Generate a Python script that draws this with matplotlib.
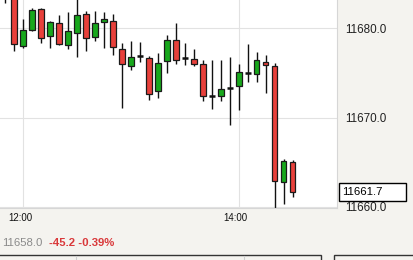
import matplotlib
matplotlib.use("Agg")
import matplotlib.pyplot as plt
import matplotlib.transforms as mtransforms
from matplotlib.patches import Rectangle
from matplotlib.lines import Line2D

plt.rcParams['font.family'] = ['Liberation Sans', 'DejaVu Sans']

# ---- data ----
times = ["11:50", "11:55", "12:00", "12:05", "12:10", "12:15", "12:20", "12:25",
         "12:30", "12:35", "12:40", "12:45", "12:50", "12:55", "13:00", "13:05",
         "13:10", "13:15", "13:20", "13:25", "13:30", "13:35", "13:40", "13:45",
         "13:50", "13:55", "14:00", "14:05", "14:10", "14:15", "14:20", "14:25",
         "14:30"]
opens = [11685.0, 11684.0, 11678.05, 11679.8, 11682.2, 11679.1, 11680.65, 11678.15,
         11679.5, 11681.65, 11679.05, 11680.75, 11680.85, 11677.7, 11675.8, 11676.9,
         11676.7, 11673.0, 11676.35, 11678.75, 11676.7, 11676.6, 11676.05, 11672.4,
         11672.4, 11673.3, 11673.5, 11674.95, 11674.85, 11676.2, 11675.75, 11662.8,
         11665.05]
highs = [11686.0, 11684.5, 11681.1, 11682.3, 11682.3, 11680.8, 11681.55, 11681.8,
         11683.5, 11682.0, 11681.9, 11681.8, 11681.65, 11678.4, 11678.6, 11678.5,
         11676.9, 11677.2, 11679.25, 11680.55, 11678.4, 11677.7, 11676.5, 11676.4,
         11676.4, 11676.8, 11676.05, 11678.2, 11677.3, 11677.05, 11676.1, 11665.35,
         11665.3]
lows = [11682.8, 11677.45, 11677.85, 11679.7, 11678.35, 11677.85, 11678.1, 11677.65,
        11676.8, 11677.5, 11678.55, 11677.8, 11677.05, 11671.1, 11675.35, 11676.2,
        11672.0, 11672.2, 11675.0, 11676.05, 11675.85, 11675.75, 11671.9, 11671.0,
        11671.85, 11669.2, 11670.8, 11674.0, 11674.0, 11672.8, 11659.5, 11660.35,
        11661.1]
closes = [11684.2, 11678.3, 11679.85, 11682.1, 11678.95, 11680.75, 11678.3, 11679.65,
          11681.55, 11678.95, 11680.65, 11681.0, 11677.95, 11676.05, 11676.8, 11676.9,
          11672.65, 11676.15, 11678.75, 11676.5, 11676.7, 11676.05, 11672.45, 11672.4,
          11673.2, 11673.3, 11675.15, 11674.95, 11676.4, 11675.9, 11662.9, 11665.15,
          11661.7]
ytick_vals = [11660.0, 11670.0, 11680.0]
xtick_labels = ["12:00", "14:00"]
last_price = "11661.7"
summary_price = "11658.0"
summary_change = "-45.2 -0.39%"

UP = "#18a81c"
DOWN = "#e8403b"
BG = "#f4f3ef"

def to_min(s):
    h, m = s.split(":")
    return int(h) * 60 + int(m)

xs = [to_min(t) for t in times]
xt = [to_min(t) for t in xtick_labels]

W, H = 413, 260
fig = plt.figure(figsize=(W / 100, H / 100), dpi=100)
fig.patch.set_facecolor(BG)

ax_right = 337
ax_bottom = 208
ax = fig.add_axes([0, 1 - ax_bottom / H, ax_right / W, ax_bottom / H])
ax.set_facecolor("white")

# grid
for v in ytick_vals:
    ax.axhline(v, color="#e2e2e2", lw=0.8, zorder=0)
for v in xt:
    ax.axvline(v, color="#e2e2e2", lw=0.8, zorder=0)

bw = 3.1
# wicks
ax.vlines(xs, lows, highs, color="#111111", lw=1.0, zorder=2)
# bodies
for x, o, h, l, c in zip(xs, opens, highs, lows, closes):
    if abs(c - o) < 1e-9:
        ax.hlines(o, x - bw / 2, x + bw / 2, color="#111111", lw=1.8, zorder=3)
    else:
        col = UP if c > o else DOWN
        ax.bar(x, c - o, bottom=o, width=bw, color=col, edgecolor="#1a1a1a",
               linewidth=0.9, zorder=3)

ax.set_xlim(707.1, 894.7)
ax.set_ylim(11659.87, 11683.18)

for s in ["top", "left"]:
    ax.spines[s].set_visible(False)
for s in ["bottom", "right"]:
    ax.spines[s].set_color("#d6d6d6")
    ax.spines[s].set_linewidth(0.8)

ax.yaxis.tick_right()
ax.set_yticks(ytick_vals)
ax.set_yticklabels([f"{v:.1f}" for v in ytick_vals])
ax.tick_params(axis="y", length=0, pad=6, labelsize=8.4, labelcolor="#222222")
ax.set_xticks(xt)
ax.set_xticklabels(xtick_labels)
ax.tick_params(axis="x", length=0, pad=3.5, labelsize=7, labelcolor="#111111")
for lbl in ax.get_xticklabels():
    lbl.set_transform(lbl.get_transform() + mtransforms.ScaledTranslation(-3 / 100, 0, fig.dpi_scale_trans))

# last price box
blend = mtransforms.blended_transform_factory(fig.transFigure, ax.transData)
lp = closes[-1]
box_h = 18 / (ax_bottom / (11683.18 - 11659.87))
fig.add_artist(Rectangle((338.5 / W, lp - box_h / 2), 67 / W, box_h, transform=blend,
                         facecolor="white", edgecolor="black", lw=1.0, clip_on=False))
fig.text(342.5 / W, lp, last_price, transform=blend, fontsize=8.2, color="black",
         ha="left", va="center")

# summary text
fig.text(2.5 / W, 1 - 243.5 / H, summary_price, fontsize=8.2, color="#8a8a8a",
         ha="left", va="center")
fig.text(49 / W, 1 - 243.5 / H, summary_change, fontsize=8.2, color="#d9383a",
         fontweight="bold", ha="left", va="center")

# bottom boxes
fig.add_artist(Rectangle((-0.01, -0.05), (321 + 4) / W, (1 - 254.5 / H) + 0.05,
                         transform=fig.transFigure, facecolor="none",
                         edgecolor="#333333", lw=1.0, clip_on=False))
fig.add_artist(Rectangle((333.5 / W, -0.05), 0.3, (1 - 254.5 / H) + 0.05,
                         transform=fig.transFigure, facecolor="none",
                         edgecolor="#333333", lw=1.0, clip_on=False))
for xp in [76, 244]:
    fig.add_artist(Line2D([xp / W, xp / W], [0, 1 - 255.5 / H], transform=fig.transFigure,
                          color="#cfcfcf", lw=0.8))

fig.savefig("out.png", dpi=100, facecolor=BG)
